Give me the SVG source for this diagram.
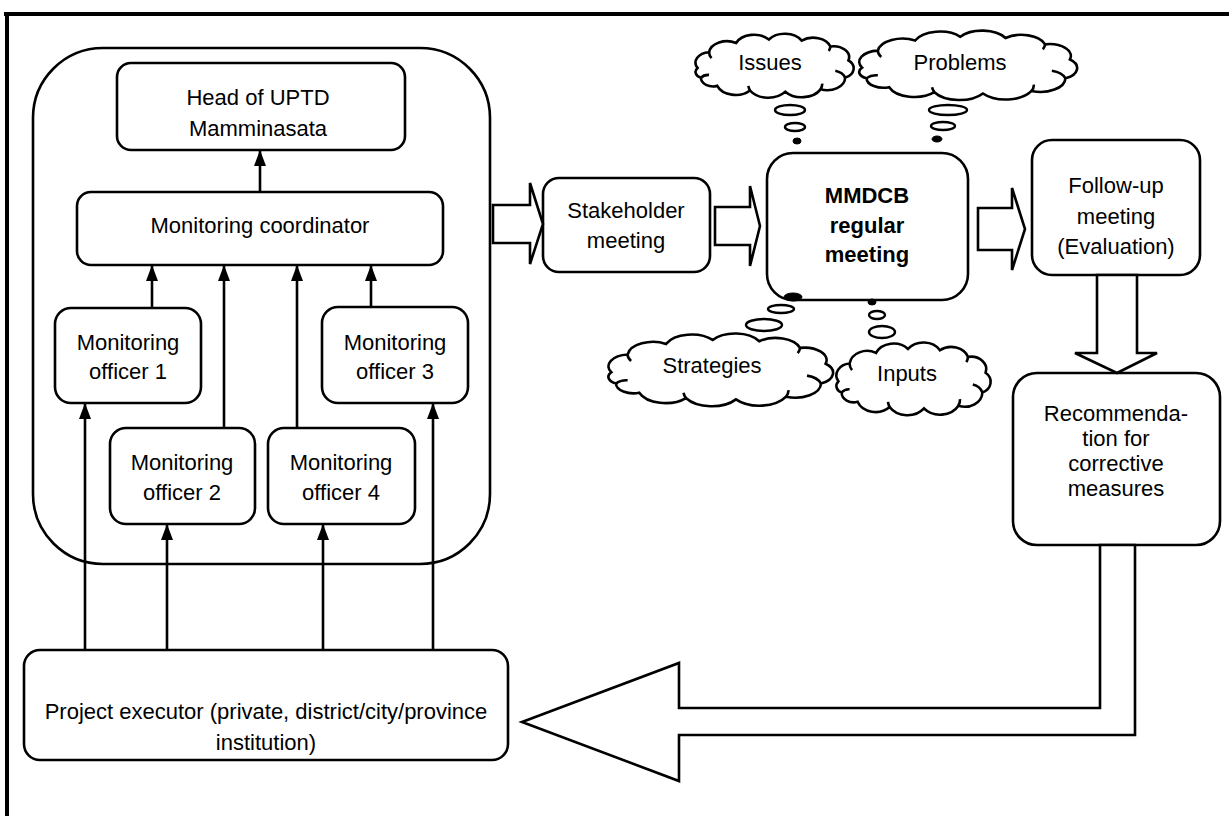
<svg xmlns="http://www.w3.org/2000/svg" xmlns:xlink="http://www.w3.org/1999/xlink" width="1229" height="816" viewBox="0 0 1229 816">
<style>
.t{font-family:"Liberation Sans",Arial,sans-serif;font-size:22px;text-anchor:middle;fill:#000;stroke:none}
.b{font-weight:bold}
.box{fill:#fff;stroke:#000;stroke-width:2.6}
.ln{fill:none;stroke:#000;stroke-width:2.6}
.blk{fill:#fff;stroke:#000;stroke-width:2.6;stroke-linejoin:miter}
.cl{fill:#fff;stroke:#000;stroke-width:2.6}
.ov{fill:#fff;stroke:#000;stroke-width:2.4}
.dot{fill:#000;stroke:#000;stroke-width:1}
</style>
<defs>
<marker id="tip" viewBox="0 0 16 12" refX="16" refY="6" markerWidth="16" markerHeight="12" markerUnits="userSpaceOnUse" orient="auto">
<path d="M0,0 L16,6 L0,12 Z" fill="#000"/>
</marker>
<g id="cloud">
<path vector-effect="non-scaling-stroke" d="M8,55 A18,18 0 0 1 22,28 A22,22 0 0 1 55,12 A24,24 0 0 1 95,6 A24,24 0 0 1 135,8 A22,22 0 0 1 170,18 A19,19 0 0 1 192,42 A18,18 0 0 1 188,72 A22,22 0 0 1 158,92 A26,26 0 0 1 115,96 A26,26 0 0 1 72,94 A24,24 0 0 1 32,86 A15,15 0 0 1 12,72 A11,11 0 0 1 8,55 Z"/>
<path vector-effect="non-scaling-stroke" fill="none" d="M22,28 A18,18 0 0 0 25,38 M12,72 A11,11 0 0 1 22,67 M188,72 A18,18 0 0 0 176,60 M158,92 A22,22 0 0 0 160,82 M72,94 A26,26 0 0 1 70,86 M170,18 A22,22 0 0 1 168,26"/>
</g>
</defs>

<g id="frame">
<line x1="4" y1="14" x2="1229" y2="14" stroke="#000" stroke-width="4"/>
<line x1="7" y1="12" x2="7" y2="816" stroke="#000" stroke-width="4"/>
</g>

<g id="container"><rect class="box" x="33" y="48" width="457" height="516" rx="70" ry="70"/></g>

<g id="head"><rect class="box" x="117" y="63" width="288" height="87" rx="14"/>
<text class="t" x="258" y="105">Head of UPTD</text><text class="t" x="258" y="136">Mamminasata</text></g>

<g id="coordinator"><rect class="box" x="77" y="192" width="366" height="73" rx="14"/>
<text class="t" x="260" y="233">Monitoring coordinator</text></g>

<g id="officer1"><rect class="box" x="55" y="308" width="146" height="95" rx="16"/>
<text class="t" x="128" y="350">Monitoring</text><text class="t" x="128" y="379">officer 1</text></g>

<g id="officer3"><rect class="box" x="322" y="307" width="146" height="96" rx="16"/>
<text class="t" x="395" y="350">Monitoring</text><text class="t" x="395" y="379">officer 3</text></g>

<g id="officer2"><rect class="box" x="110" y="428" width="145" height="96" rx="16"/>
<text class="t" x="182" y="470">Monitoring</text><text class="t" x="182" y="500">officer 2</text></g>

<g id="officer4"><rect class="box" x="268" y="428" width="147" height="96" rx="16"/>
<text class="t" x="341" y="470">Monitoring</text><text class="t" x="341" y="500">officer 4</text></g>

<g id="executor"><rect class="box" x="24" y="650" width="484" height="110" rx="16"/>
<text class="t" x="266" y="719">Project executor (private, district/city/province</text><text class="t" x="266" y="750">institution)</text></g>

<g id="stakeholder"><rect class="box" x="543" y="178" width="167" height="94" rx="16"/>
<text class="t" x="626" y="218">Stakeholder</text><text class="t" x="626" y="248">meeting</text></g>

<g id="mmdcb"><rect class="box" x="767" y="153" width="201" height="147" rx="26"/>
<text class="t b" x="867" y="203">MMDCB</text><text class="t b" x="867" y="233">regular</text><text class="t b" x="867" y="262">meeting</text></g>

<g id="followup"><rect class="box" x="1032" y="140" width="168" height="135" rx="20"/>
<text class="t" x="1116" y="193">Follow-up</text><text class="t" x="1116" y="224">meeting</text><text class="t" x="1116" y="254">(Evaluation)</text></g>

<g id="recommendation"><rect class="box" x="1013" y="373" width="207" height="172" rx="24"/>
<text class="t" x="1116" y="421">Recommenda-</text><text class="t" x="1116" y="446">tion for</text><text class="t" x="1116" y="471">corrective</text><text class="t" x="1116" y="496">measures</text></g>

<g id="issues"><use class="cl" xlink:href="#cloud" transform="translate(691,36) scale(0.82,0.58)"/>
<text class="t" x="770" y="70">Issues</text></g>
<g id="problems"><use class="cl" xlink:href="#cloud" transform="translate(853,33) scale(1.13,0.63)"/>
<text class="t" x="960" y="70">Problems</text></g>
<g id="strategies"><use class="cl" xlink:href="#cloud" transform="translate(602,336) scale(1.165,0.66)"/>
<text class="t" x="712" y="373">Strategies</text></g>
<g id="inputs"><use class="cl" xlink:href="#cloud" transform="translate(832,345) scale(0.8,0.66)"/>
<text class="t" x="907" y="381">Inputs</text></g>

<g id="connectors">
<line class="ln" x1="260" y1="192" x2="260" y2="150" marker-end="url(#tip)"/>
<line class="ln" x1="152" y1="308" x2="152" y2="265" marker-end="url(#tip)"/>
<line class="ln" x1="224" y1="428" x2="224" y2="265" marker-end="url(#tip)"/>
<line class="ln" x1="297" y1="428" x2="297" y2="265" marker-end="url(#tip)"/>
<line class="ln" x1="371" y1="307" x2="371" y2="265" marker-end="url(#tip)"/>
<line class="ln" x1="85" y1="650" x2="85" y2="403" marker-end="url(#tip)"/>
<line class="ln" x1="167" y1="650" x2="167" y2="524" marker-end="url(#tip)"/>
<line class="ln" x1="323" y1="650" x2="323" y2="524" marker-end="url(#tip)"/>
<line class="ln" x1="433" y1="650" x2="433" y2="403" marker-end="url(#tip)"/>
<path class="blk" d="M493,205 L530,205 L530,183 L543,224 L530,264 L530,243 L493,243 Z"/>
<path class="blk" d="M715,207 L750,207 L750,186 L760,226 L750,266 L750,245 L715,245 Z"/>
<path class="blk" d="M978,208 L1012,208 L1012,188 L1025,229 L1012,270 L1012,250 L978,250 Z"/>
<path class="blk" d="M1097,275 L1097,353 L1075,353 L1117,373 L1157,353 L1137,353 L1137,275 Z"/>
<path class="blk" d="M522,722 L679,663 L679,708 L1100,708 L1100,545 L1135,545 L1135,735 L679,735 L679,781 Z"/>
<ellipse class="ov" cx="790" cy="110" rx="15" ry="5"/>
<ellipse class="ov" cx="795" cy="127" rx="10" ry="4"/>
<ellipse class="dot" cx="797" cy="141" rx="4" ry="3"/>
<ellipse class="ov" cx="948" cy="110" rx="19" ry="5"/>
<ellipse class="ov" cx="943" cy="126" rx="12" ry="4"/>
<ellipse class="dot" cx="937" cy="139" rx="5" ry="3"/>
<ellipse class="dot" cx="793" cy="297" rx="9" ry="4"/>
<ellipse class="ov" cx="781" cy="309" rx="13" ry="4"/>
<ellipse class="ov" cx="764" cy="325" rx="18" ry="6"/>
<ellipse class="dot" cx="872" cy="302" rx="4" ry="3"/>
<ellipse class="ov" cx="877" cy="315" rx="8" ry="4"/>
<ellipse class="ov" cx="882" cy="332" rx="13" ry="6"/>
</g>
</svg>
